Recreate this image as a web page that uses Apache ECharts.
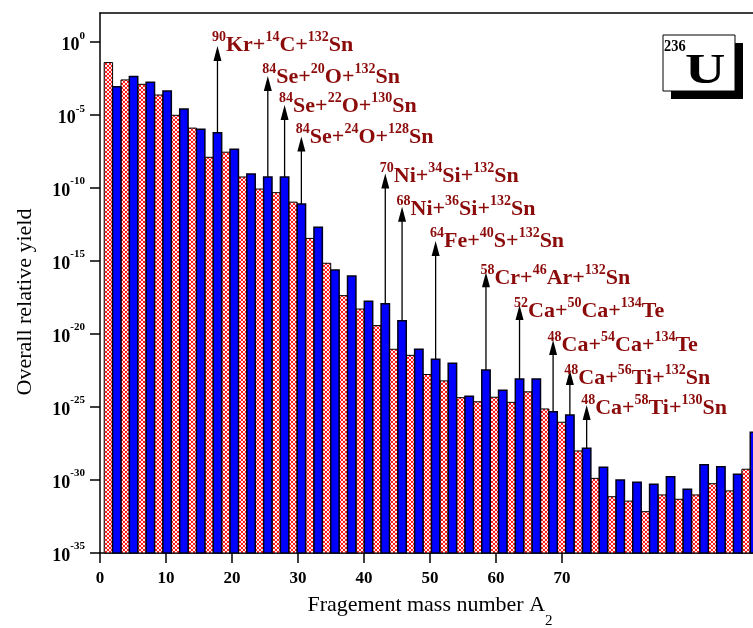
<!DOCTYPE html>
<html>
<head>
<meta charset="utf-8">
<script src="https://cdn.jsdelivr.net/npm/echarts@6/dist/echarts.min.js"></script>
<style>
  html, body { margin: 0; padding: 0; background: #fff; }
  #chart { width: 753px; height: 628px; }
</style>
</head>
<body>
<div id="chart"></div>
<script>
// mass numbers: hatched red bars sit on odd A, blue bars on even A
const oddA = [1, 3, 5, 7, 9, 11, 13, 15, 17, 19, 21, 23, 25, 27, 29, 31, 33, 35, 37, 39,
  41, 43, 45, 47, 49, 51, 53, 55, 57, 59, 61, 63, 65, 67, 69, 71, 73, 75, 77];
const evenA = [2, 4, 6, 8, 10, 12, 14, 16, 18, 20, 22, 24, 26, 28, 30, 32, 34, 36, 38, 40,
  42, 44, 46, 48, 50, 52, 54, 56, 58, 60, 62, 64, 66, 68, 70, 72, 74, 76, 78];

// overall relative yield
const redYield = [4.0e-2, 2.6e-3, 1.3e-3, 2.4e-4, 9.8e-6, 1.3e-6, 1.3e-8, 2.9e-8, 5.8e-10, 8.7e-11,
  4.9e-11, 1.1e-11, 3.6e-14, 7.1e-16, 4.3e-18, 5.2e-19, 3.8e-20, 9.1e-22, 3.5e-22, 1.7e-23,
  6.2e-24, 4.4e-25, 2.3e-25, 4.7e-25, 2.1e-25, 1.1e-24, 7.4e-26, 9.1e-27, 9.8e-29, 1.3e-30,
  7.2e-32, 3.6e-32, 6.8e-33, 9.5e-32, 4.8e-32, 9.5e-32, 5.6e-31, 1.8e-31, 5.5e-30];
const blueYield = [8.9e-4, 4.4e-3, 1.8e-3, 4.6e-4, 2.6e-5, 1.1e-6, 6.3e-7, 4.6e-8, 9.3e-10, 5.8e-10,
  5.8e-10, 8.1e-12, 2.1e-13, 2.5e-16, 9.5e-17, 1.8e-18, 1.2e-18, 8.3e-20, 9.1e-22, 1.9e-22,
  1.0e-22, 5.5e-25, 3.5e-23, 1.4e-24, 8.3e-24, 8.3e-24, 4.8e-26, 2.9e-26, 1.5e-28, 7.4e-30,
  1.0e-30, 7.1e-31, 5.1e-31, 1.7e-30, 2.3e-31, 1.1e-29, 8.1e-30, 2.5e-30, 1.9e-27];

// marked fragmentation channels
const arrowA = [14, 20, 22, 24, 34, 36, 40, 46, 50, 54, 56, 58];
const arrowTip = [5.5e-1, 4.8e-3, 5.0e-5, 3.4e-7, 1.0e-9, 5.4e-12, 2.4e-14, 1.7e-16, 9.8e-19, 4.0e-21, 3.5e-23, 1.4e-25];
const labelBase = [2.9e-1, 1.7e-3, 1.7e-5, 1.3e-7, 3.1e-10, 1.6e-12, 9.8e-15, 3.0e-17, 1.7e-19, 8.1e-22, 4.3e-24, 3.7e-26];
const arrowLabels = [
  '90Kr+14C+132Sn', '84Se+20O+132Sn', '84Se+22O+130Sn', '84Se+24O+128Sn',
  '70Ni+34Si+132Sn', '68Ni+36Si+132Sn', '64Fe+40S+132Sn', '58Cr+46Ar+132Sn',
  '52Ca+50Ca+134Te', '48Ca+54Ca+134Te', '48Ca+56Ti+132Sn', '48Ca+58Ti+130Sn'
];

const xTicks = [0, 10, 20, 30, 40, 50, 60, 70];
const yTicks = [-35, -30, -25, -20, -15, -10, -5, 0];

const SERIF = '"Liberation Serif", "DejaVu Serif", serif';
const LABEL_RED = '#8b0a0a';
const Y_MIN = -35;

const chart = echarts.init(document.getElementById('chart'));

// red cross-hatch fill: red lattice with round white holes
const hatch = document.createElement('canvas');
hatch.width = 4;
hatch.height = 4;
(function () {
  const ctx = hatch.getContext('2d');
  ctx.fillStyle = '#ff0000';
  ctx.fillRect(0, 0, 4, 4);
  ctx.fillStyle = '#fff';
  [[2, 2], [0, 0], [4, 0], [0, 4], [4, 4]].forEach(p => {
    ctx.beginPath();
    ctx.arc(p[0], p[1], 1.15, 0, Math.PI * 2);
    ctx.fill();
  });
})();

const lg = v => Math.log10(v);

const barRender = (fill, stroke, lw) => (params, api) => {
  const a = api.value(0);
  const p1 = api.coord([a - 0.5, api.value(1)]);
  const p2 = api.coord([a + 0.5, Y_MIN]);
  return {
    type: 'rect',
    shape: { x: p1[0], y: p1[1], width: p2[0] - p1[0], height: p2[1] - p1[1] },
    style: { fill: fill, stroke: stroke, lineWidth: lw }
  };
};

const toRich = s => s.replace(/(\d+)([A-Za-z+]+)/g, '{s|$1}{m|$2}');

const arrowData = arrowA.map((a, i) => [a, lg(blueYield[evenA.indexOf(a)]), lg(arrowTip[i]), lg(labelBase[i])]);

const option = {
  animation: false,
  backgroundColor: '#fff',
  grid: { left: 100, top: 13, width: 660, height: 540, outerBoundsMode: 'none', containLabel: false },
  xAxis: [
    {
      type: 'value', position: 'bottom', min: 0, max: 100,
      axisLine: { show: true, onZero: false, lineStyle: { color: '#000', width: 1.5 } },
      axisTick: { show: true, inside: false, length: 10, customValues: xTicks, lineStyle: { color: '#000', width: 1.5 } },
      axisLabel: { customValues: xTicks, margin: 17, color: '#000', fontFamily: SERIF, fontWeight: 'bold', fontSize: 17 },
      splitLine: { show: false },
      name: '{t|Fragement mass number A}{d|2}',
      nameLocation: 'middle',
      nameGap: 41,
      nameMoveOverlap: false,
      nameTextStyle: {
        rich: {
          t: { fontFamily: SERIF, fontSize: 22, color: '#000', lineHeight: 26, verticalAlign: 'top' },
          d: { fontFamily: SERIF, fontSize: 15, color: '#000', lineHeight: 35, verticalAlign: 'bottom' }
        }
      }
    },
    {
      type: 'value', position: 'top', min: 0, max: 78.66,
      axisLine: { show: true, onZero: false, lineStyle: { color: '#000', width: 1.5 } },
      axisTick: { show: false },
      axisLabel: { show: false },
      splitLine: { show: false }
    }
  ],
  yAxis: {
    type: 'value', min: Y_MIN, max: 2, interval: 5,
    axisLine: { show: true, onZero: false, lineStyle: { color: '#000', width: 1.5 } },
    axisTick: { show: true, inside: false, length: 10, customValues: yTicks, lineStyle: { color: '#000', width: 1.5 } },
    axisLabel: {
      customValues: yTicks,
      margin: 15,
      formatter: v => '{b|10}{s|' + v + '}',
      rich: {
        b: { fontFamily: SERIF, fontWeight: 'bold', fontSize: 18, color: '#000', lineHeight: 24, verticalAlign: 'bottom' },
        s: { fontFamily: SERIF, fontWeight: 'bold', fontSize: 11, color: '#000', lineHeight: 14, verticalAlign: 'top' }
      }
    },
    splitLine: { show: false },
    name: 'Overall relative yield',
    nameLocation: 'middle',
    nameRotate: 90,
    nameGap: 64,
    nameMoveOverlap: false,
    nameTextStyle: { fontFamily: SERIF, fontSize: 22, color: '#000', padding: [0, 38, 0, 0] }
  },
  series: [
    {
      type: 'custom', name: 'odd', xAxisIndex: 1, yAxisIndex: 0,
      encode: { x: 0, y: 1 },
      renderItem: barRender({ image: hatch, repeat: 'repeat' }, '#000', 1),
      data: oddA.map((a, i) => [a, lg(redYield[i])])
    },
    {
      type: 'custom', name: 'even', xAxisIndex: 1, yAxisIndex: 0,
      encode: { x: 0, y: 1 },
      renderItem: barRender('#0000ff', '#000018', 1.5),
      data: evenA.map((a, i) => [a, lg(blueYield[i])])
    },
    {
      type: 'custom', name: 'channels', xAxisIndex: 1, yAxisIndex: 0,
      encode: { x: 0, y: 2 },
      z: 5,
      renderItem: (params, api) => {
        const a = api.value(0);
        const from = api.coord([a, api.value(1)]);
        const tip = api.coord([a, api.value(2)]);
        const lab = api.coord([a, api.value(3)]);
        return {
          type: 'group',
          children: [
            { type: 'line', shape: { x1: from[0], y1: from[1], x2: tip[0], y2: tip[1] + 12 }, style: { stroke: '#000', lineWidth: 1.3 } },
            { type: 'polygon', shape: { points: [[tip[0], tip[1]], [tip[0] - 4, tip[1] + 15], [tip[0] + 4, tip[1] + 15]] }, style: { fill: '#000' } },
            {
              type: 'text', x: tip[0] - 5.5, y: lab[1] + 6,
              style: {
                text: toRich(arrowLabels[params.dataIndex]),
                align: 'left', verticalAlign: 'bottom',
                rich: {
                  m: { fontFamily: SERIF, fontWeight: 'bold', fontSize: 22, fill: LABEL_RED, lineHeight: 26, verticalAlign: 'bottom' },
                  s: { fontFamily: SERIF, fontWeight: 'bold', fontSize: 14, fill: LABEL_RED, lineHeight: 16, verticalAlign: 'top' }
                }
              }
            }
          ]
        };
      },
      data: arrowData
    }
  ],
  graphic: [
    { type: 'rect', shape: { x: 671, y: 43, width: 72, height: 56 }, style: { fill: '#000' }, z: 10 },
    { type: 'rect', shape: { x: 663, y: 35, width: 72, height: 56 }, style: { fill: '#fff', stroke: '#000', lineWidth: 1 }, z: 11 },
    {
      type: 'text', x: 664, y: 55, z: 12, scaleX: 0.9,
      style: { text: '236', align: 'left', verticalAlign: 'bottom', fontFamily: SERIF, fontWeight: 'bold', fontSize: 16, lineHeight: 16, fill: '#000' }
    },
    {
      type: 'text', x: 685, y: 93, z: 12, scaleX: 1.3,
      style: { text: 'U', align: 'left', verticalAlign: 'bottom', fontFamily: SERIF, fontWeight: 'bold', fontSize: 43, lineHeight: 43, fill: '#000' }
    }
  ]
};

chart.setOption(option);
</script>
</body>
</html>
